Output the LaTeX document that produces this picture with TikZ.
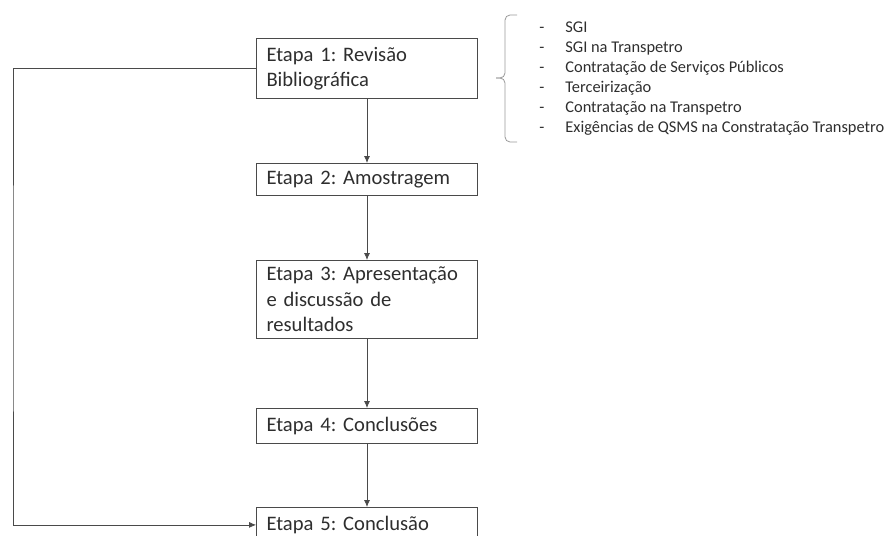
\documentclass[tikz,border=0pt]{standalone}
\usepackage{fontspec}
\setmainfont{Carlito}
\usetikzlibrary{positioning}
\usetikzlibrary{arrows.meta}
\definecolor{linegray}{HTML}{4A4A4A}
\definecolor{textgray}{HTML}{2E2E2E}
\frenchspacing
\tikzset{x=0.5pt, y=-0.5pt,
etapa/.style={ % Sets the properties for each step box
draw=linegray,
thin,
anchor=north,
minimum width=110.5pt,
text width=100.5pt,
inner xsep=5pt,
align=left,
text=textgray,
font=\fontsize{10.3}{12.6}\selectfont},
seta/.style={ % Sets the properties for each arrow
draw=linegray,
thin,
-{Latex[length=3.5pt,width=3pt]}},
chave/.style={draw=gray!80, thin, rounded corners=2.5pt}}

\begin{document}
\begin{tikzpicture}
\useasboundingbox (0,0) rectangle (888,535);
\clip (0,0) rectangle (888,535);
\node[etapa, minimum height=30pt] (e1) at (367,38) {Etapa 1: Revisão\\Bibliográfica};
\node[etapa, minimum height=16pt] (e2) at (367,163) {Etapa 2: Amostragem};
\node[etapa, minimum height=35pt] (e3) at (367,260) {Etapa 3: Apresentação\\e discussão de\\resultados};
\node[etapa, minimum height=17.5pt] (e4) at (367,408) {Etapa 4: Conclusões};
\node[etapa, minimum height=17.5pt] (e5) at (367,507) {Etapa 5: Conclusão};
\coordinate (volta) at (13,300);
\node[anchor=west, inner sep=0pt, align=left, text=textgray,
font=\fontsize{8.2}{10}\selectfont] (temas) at (539,79)
{\makebox[13pt][l]{-}SGI\\
\makebox[13pt][l]{-}SGI na Transpetro\\
\makebox[13pt][l]{-}Contratação de Serviços Públicos\\
\makebox[13pt][l]{-}Terceirização\\
\makebox[13pt][l]{-}Contratação na Transpetro\\
\makebox[13pt][l]{-}Exigências de QSMS na Constratação Transpetro};
\draw (e1) edge[seta] (e2) ;
\draw (e2) edge[seta] (e3) ;
\draw (e3) edge[seta] (e4) ;
\draw (e4) edge[seta] (e5) ;
\draw[seta] (e1.west) -| (volta) |- (e5.west) ;
% brace in front of the topic list
\draw[chave] (517,15) -- (505,15) -- (505,78) -- (496,78) ;
\draw[chave] (496,78) -- (505,78) -- (505,142) -- (517,142) ;
\end{tikzpicture}
\end{document}
